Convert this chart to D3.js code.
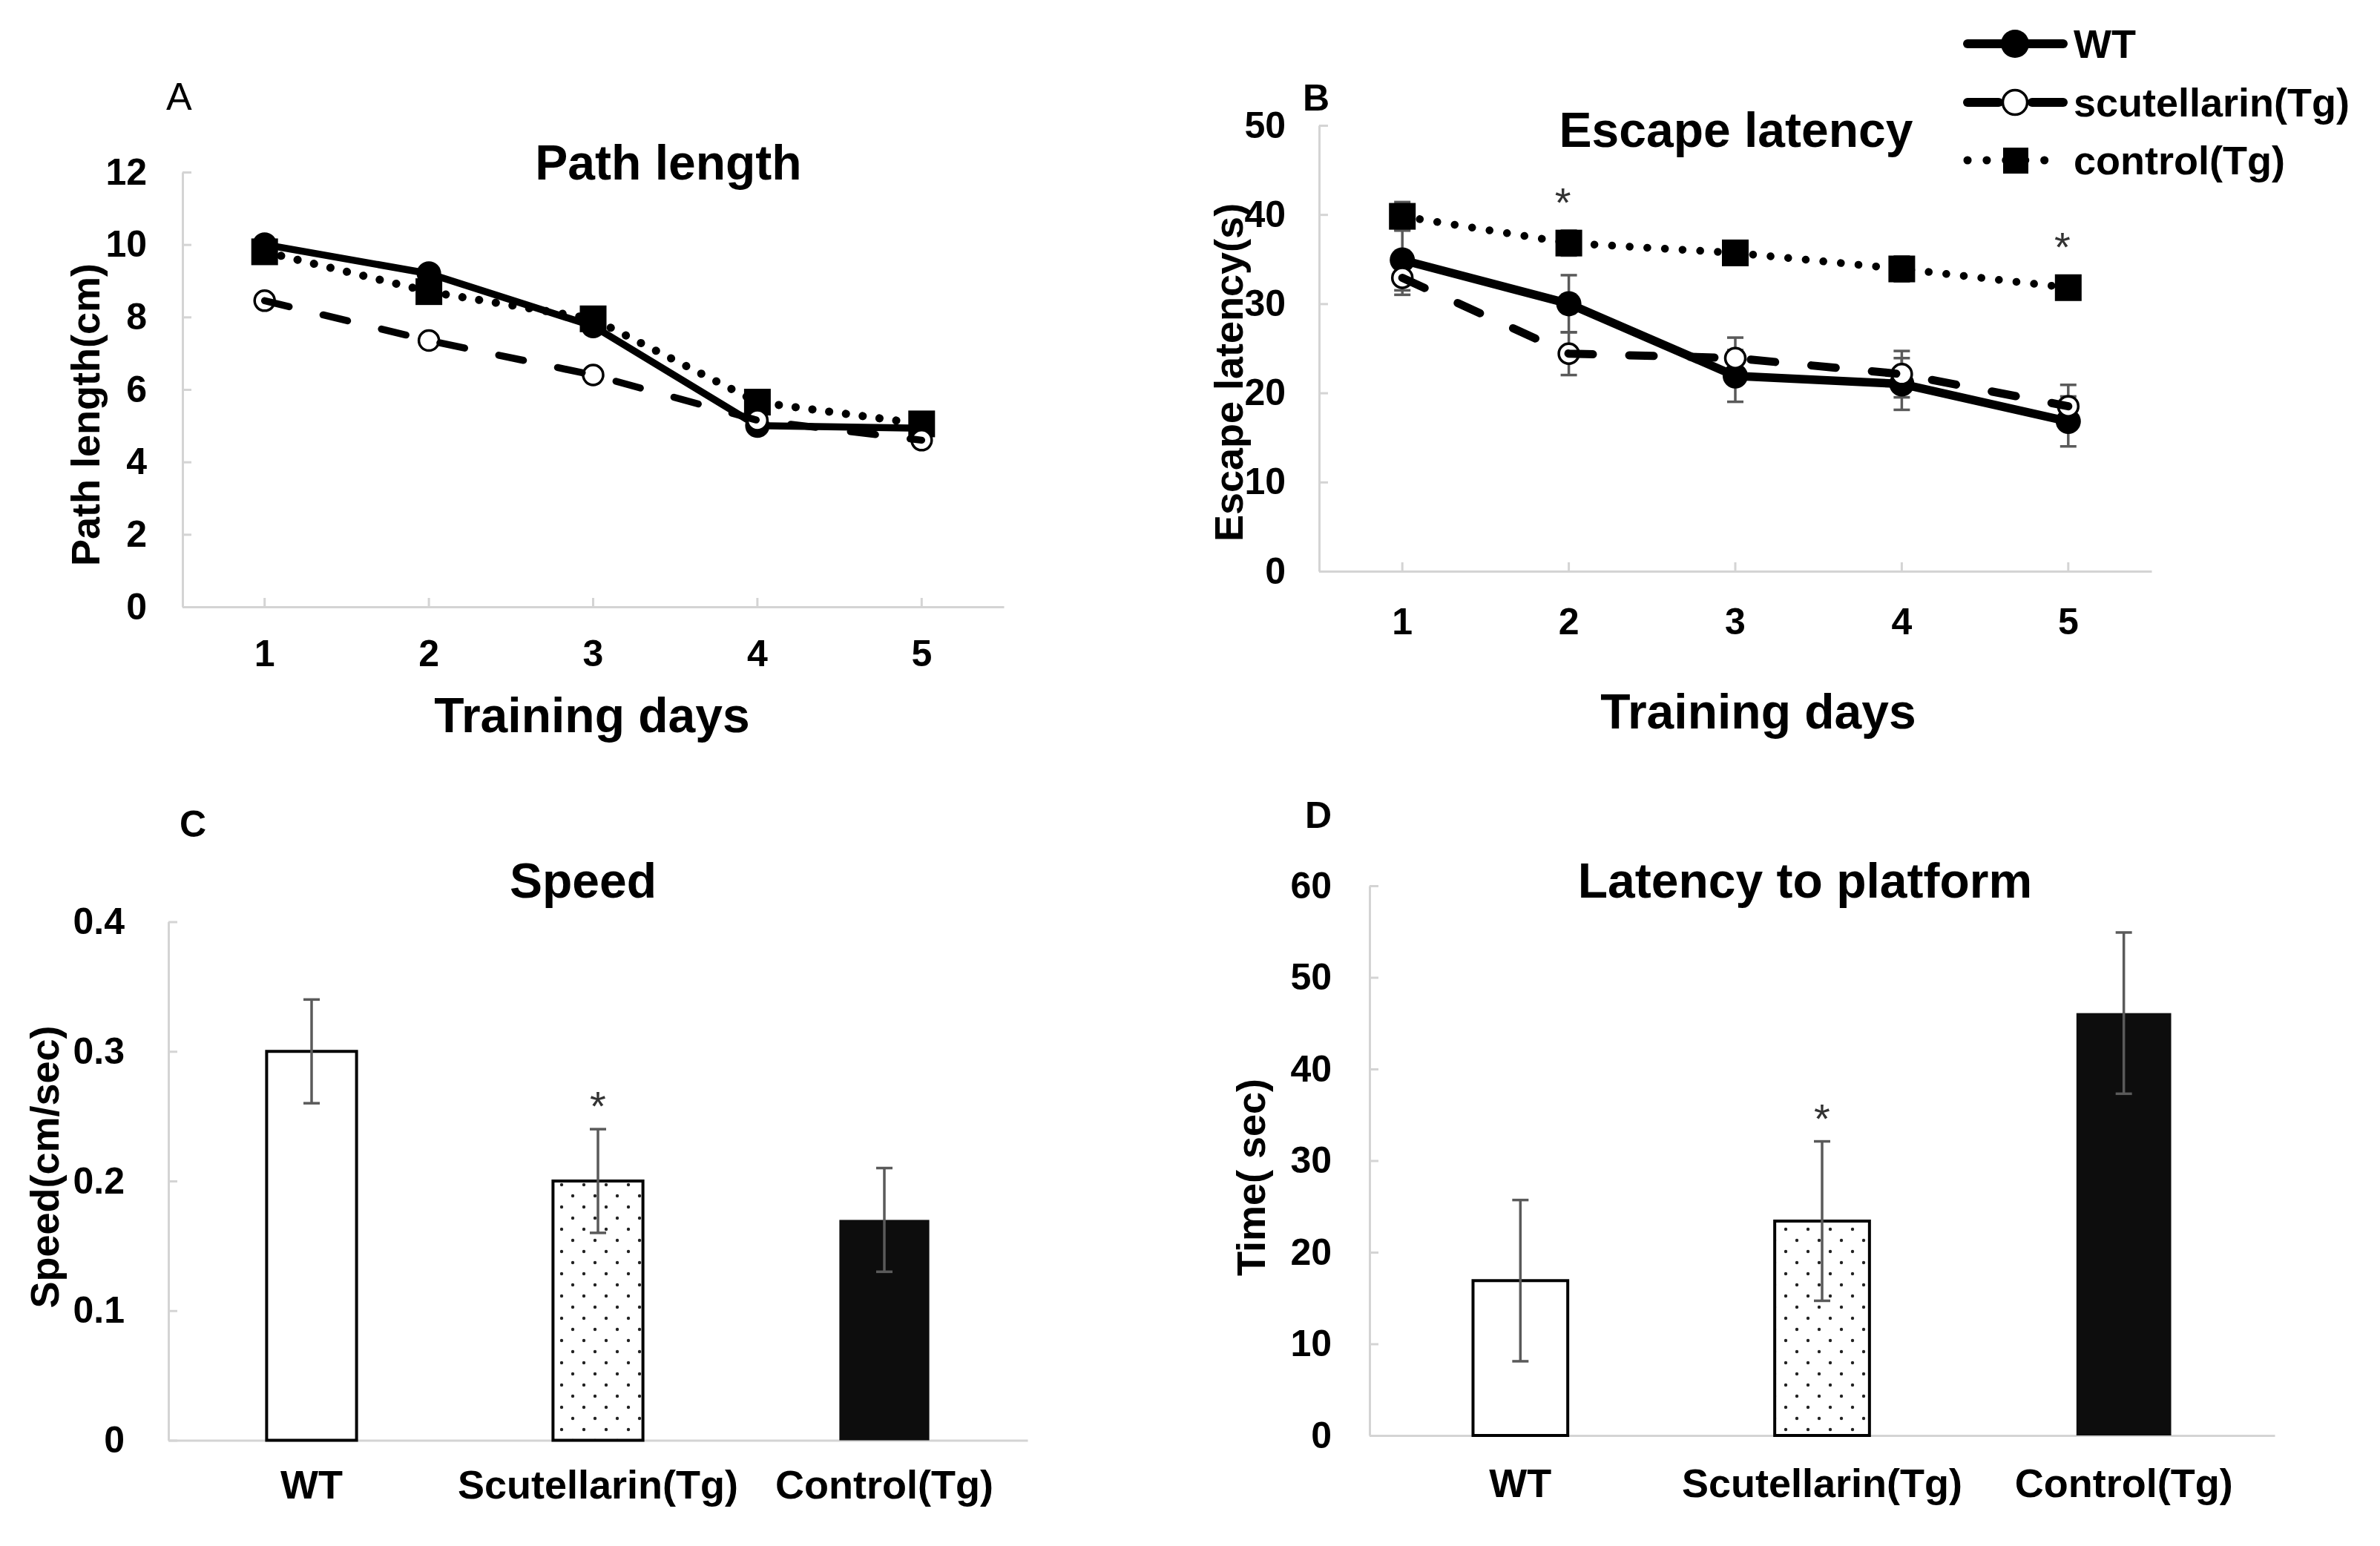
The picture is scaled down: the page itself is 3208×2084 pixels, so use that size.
<!DOCTYPE html>
<html>
<head>
<meta charset="utf-8">
<script src="https://cdn.jsdelivr.net/npm/d3@7"></script>
<style>
body{margin:0;background:#fff;}
svg text{font-family:"Liberation Sans",Arial,sans-serif;font-weight:bold;fill:#000;}
</style>
</head>
<body>
<svg id="vis" width="3208" height="2084"></svg>
<script>
// ---- data ----
// A / B: training days
const days = ["1", "2", "3", "4", "5"];
const pathWT   = [10.0, 9.2, 7.75, 5.0, 4.93];
const pathScut = [8.45, 7.35, 6.4, 5.15, 4.6];
const pathCtrl = [9.8, 8.7, 7.95, 5.65, 5.05];

const escWT      = [34.9, 30.0, 21.9, 21.0, 16.8];
const escWTErr   = [3.4, 3.2, 2.9, 2.9, 2.8];
const escScut    = [32.9, 24.4, 23.9, 22.1, 18.5];
const escScutErr = [1.9, 2.4, 2.3, 2.6, 2.4];
const escCtrl    = [39.8, 36.8, 35.7, 33.9, 31.8];
const escCtrlErr = [1.6, 1.4, 1.2, 1.4, 1.0];
const escSig     = [0, 1, 0, 0, 1];

// C / D: groups
const groups = ["WT", "Scutellarin(Tg)", "Control(Tg)"];
const speed      = [0.30, 0.20, 0.17];
const speedErr   = [0.04, 0.04, 0.04];
const latency    = [16.9, 23.4, 46.1];
const latencyErr = [8.8, 8.7, 8.8];
const barSig     = [0, 1, 0];

const legendNames = ["WT", "scutellarin(Tg)", "control(Tg)"];
const ticksA = [0, 2, 4, 6, 8, 10, 12];
const ticksB = [0, 10, 20, 30, 40, 50];
const ticksC = [0, 0.1, 0.2, 0.3, 0.4];
const ticksD = [0, 10, 20, 30, 40, 50, 60];

// ---- setup ----
const svg = d3.select("#vis");
svg.append("rect").attr("width", 3208).attr("height", 2084).attr("fill", "#fff");

const defs = svg.append("defs");
const pat = defs.append("pattern").attr("id", "dots")
    .attr("patternUnits", "userSpaceOnUse").attr("width", 30).attr("height", 30);
pat.append("rect").attr("width", 30).attr("height", 30).attr("fill", "#fff");
pat.append("circle").attr("cx", 7).attr("cy", 7).attr("r", 2.2).attr("fill", "#222");
pat.append("circle").attr("cx", 22).attr("cy", 22).attr("r", 2.2).attr("fill", "#222");

const axisGray = "#d4d4d4";
const errGray = "#5a5a5a";

function yAxis(y, x0, ticks, fmt, pad){
    const g = svg.append("g").attr("transform", "translate(" + x0 + ",0)")
        .call(d3.axisLeft(y).tickValues(ticks).tickFormat(fmt)
            .tickSizeInner(-12).tickSizeOuter(0).tickPadding(pad));
    g.select(".domain").attr("stroke", axisGray).attr("stroke-width", 3);
    g.selectAll(".tick line").attr("stroke", axisGray).attr("stroke-width", 3);
    g.selectAll(".tick text").attr("font-size", 50);
}

function xAxis(x, y0, tick, pad, fs){
    const g = svg.append("g").attr("transform", "translate(0," + y0 + ")")
        .call(d3.axisBottom(x).tickSizeInner(tick).tickSizeOuter(0).tickPadding(pad));
    g.select(".domain").attr("stroke", axisGray).attr("stroke-width", 3);
    g.selectAll(".tick line").attr("stroke", tick ? axisGray : "none").attr("stroke-width", 3);
    g.selectAll(".tick text").attr("font-size", fs);
}

function label(txt, x, y, fs, opts){
    opts = opts || {};
    const t = svg.append("text").attr("x", x).attr("y", y)
        .attr("font-size", fs).attr("text-anchor", opts.anchor || "middle").text(txt);
    if (opts.normal) t.style("font-weight", "normal");
    return t;
}

function yTitle(txt, x, y){
    svg.append("text").attr("transform", "translate(" + x + "," + y + ") rotate(-90)")
        .attr("text-anchor", "middle").attr("dy", "0.35em").attr("font-size", 54).text(txt);
}

const mid = (x, d) => x(d) + x.bandwidth() / 2;

// one line series with its markers
function lineSeries(x, y, vals, st){
    const line = d3.line().x((v, i) => mid(x, days[i])).y(v => y(v));
    const path = () => svg.append("path").datum(vals).attr("d", line)
        .attr("fill", "none").attr("stroke", "#000").attr("stroke-width", st.w)
        .attr("stroke-linecap", st.cap || "butt").attr("stroke-linejoin", "round")
        .attr("stroke-dasharray", st.dash || null);
    if (!st.lineOnTop) path();
    if (st.marker === "square") {
        svg.selectAll(null).data(vals).enter().append("rect")
            .attr("x", (v, i) => mid(x, days[i]) - st.size / 2)
            .attr("y", v => y(v) - st.size / 2)
            .attr("width", st.size).attr("height", st.size).attr("fill", "#000");
    } else {
        svg.selectAll(null).data(vals).enter().append("circle")
            .attr("cx", (v, i) => mid(x, days[i])).attr("cy", v => y(v))
            .attr("r", st.size)
            .attr("fill", st.marker === "open" ? "#fff" : "#000")
            .attr("stroke", "#000").attr("stroke-width", st.marker === "open" ? 3.5 : 0);
    }
    if (st.lineOnTop) path();
}

function errBars(xf, y, vals, errs, half){
    const g = svg.append("g").attr("stroke", errGray).attr("stroke-width", 3.5);
    vals.forEach((v, i) => {
        const cx = xf(i);
        g.append("line").attr("x1", cx).attr("x2", cx).attr("y1", y(v + errs[i])).attr("y2", y(v - errs[i]));
        [v + errs[i], v - errs[i]].forEach(e => {
            g.append("line").attr("x1", cx - half).attr("x2", cx + half).attr("y1", y(e)).attr("y2", y(e));
        });
    });
}

function stars(xs, ys){
    xs.forEach((x, i) => {
        svg.append("text").attr("x", x).attr("y", ys[i])
            .attr("text-anchor", "middle").attr("font-size", 56)
            .style("font-weight", "normal").style("fill", "#333").text("*");
    });
}

// ---- A: Path length ----
const xA = d3.scaleBand().domain(days).range([246, 1353]);
const yA = d3.scaleLinear().domain([0, 12]).range([818, 232]);
yAxis(yA, 246, ticksA, d3.format("d"), 48);
xAxis(xA, 818, -12, 44, 50);

lineSeries(xA, yA, pathCtrl, {w: 11, dash: "0.1,22.7", cap: "round", marker: "square", size: 36});
lineSeries(xA, yA, pathWT, {w: 9.5, marker: "filled", size: 16.5});
lineSeries(xA, yA, pathScut, {w: 9.5, dash: "34,47", cap: "round", marker: "open", size: 13.5, lineOnTop: true});

label("A", 224, 148, 52, {anchor: "start", normal: true});
label("Path length", 901, 242, 66);
label("Training days", 798, 987, 66);
yTitle("Path length(cm)", 115, 559);

// ---- B: Escape latency ----
const xB = d3.scaleBand().domain(days).range([1778, 2900]);
const yB = d3.scaleLinear().domain([0, 50]).range([770, 169]);
yAxis(yB, 1778, ticksB, d3.format("d"), 45);
xAxis(xB, 770, -12, 49, 50);

const dayX = i => mid(xB, days[i]);
errBars(dayX, yB, escCtrl, escCtrlErr, 11);
errBars(dayX, yB, escWT, escWTErr, 11);
errBars(dayX, yB, escScut, escScutErr, 11);
lineSeries(xB, yB, escCtrl, {w: 10.5, dash: "0.1,23.7", cap: "round", marker: "square", size: 36});
lineSeries(xB, yB, escWT, {w: 11.5, marker: "filled", size: 17});
lineSeries(xB, yB, escScut, {w: 11, dash: "33,49", cap: "round", marker: "open", size: 13.5, lineOnTop: true});

const sigDays = days.filter((d, i) => escSig[i]);
stars(sigDays.map(d => mid(xB, d) - 8), sigDays.map(d => yB(escCtrl[days.indexOf(d)]) - 36));

label("B", 1756, 149, 50, {anchor: "start"});
label("Escape latency", 2340, 198, 66);
label("Training days", 2370, 982, 66);
yTitle("Escape latency(s)", 1656, 502);

// legend
const legY = [59, 138, 216];
const lg = svg.append("g");
legendNames.forEach((name, i) => {
    const y = legY[i];
    if (i === 0) {
        lg.append("line").attr("x1", 2652).attr("x2", 2781).attr("y1", y).attr("y2", y)
            .attr("stroke", "#000").attr("stroke-width", 12).attr("stroke-linecap", "round");
        lg.append("circle").attr("cx", 2716).attr("cy", y).attr("r", 19).attr("fill", "#000");
    } else if (i === 1) {
        [[2652, 2694], [2739, 2781]].forEach(s => {
            lg.append("line").attr("x1", s[0]).attr("x2", s[1]).attr("y1", y).attr("y2", y)
                .attr("stroke", "#000").attr("stroke-width", 12).attr("stroke-linecap", "round");
        });
        lg.append("circle").attr("cx", 2716).attr("cy", y).attr("r", 16.5)
            .attr("fill", "#fff").attr("stroke", "#000").attr("stroke-width", 3.5);
    } else {
        lg.append("line").attr("x1", 2652).attr("x2", 2781).attr("y1", y).attr("y2", y)
            .attr("stroke", "#000").attr("stroke-width", 11).attr("stroke-linecap", "round")
            .attr("stroke-dasharray", "0.1,25.8");
        lg.append("rect").attr("x", 2700).attr("y", y - 17).attr("width", 34).attr("height", 35).attr("fill", "#000");
    }
    lg.append("text").attr("x", 2795).attr("y", y + 19).attr("font-size", 54).text(name);
});

// ---- bar charts ----
const barFill = ["#fff", "url(#dots)", "#0d0d0d"];
const barStroke = ["#000", "#000", "none"];

function barPanel(x, y, vals, errs){
    svg.selectAll(null).data(groups).enter().append("rect")
        .attr("x", d => x(d)).attr("width", x.bandwidth())
        .attr("y", (d, i) => y(vals[i])).attr("height", (d, i) => y(0) - y(vals[i]))
        .attr("fill", (d, i) => barFill[i]).attr("stroke", (d, i) => barStroke[i]).attr("stroke-width", 4);
    errBars(i => mid(x, groups[i]), y, vals, errs, 11);
    const sig = groups.filter((d, i) => barSig[i]);
    stars(sig.map(d => mid(x, d)),
          sig.map(d => { const i = groups.indexOf(d); return y(vals[i] + errs[i]) - 12; }));
}

// ---- C: Speed ----
const xC = d3.scaleBand().domain(groups).range([227, 1385]).paddingInner(0.686).paddingOuter(0.343);
const yC = d3.scaleLinear().domain([0, 0.4]).range([1941.5, 1242.5]);
yAxis(yC, 227, ticksC, d => d === 0 ? "0" : d3.format(".1f")(d), 59);
xAxis(xC, 1941.5, 0, 40, 54);
barPanel(xC, yC, speed, speedErr);
label("C", 242, 1128, 50, {anchor: "start"});
label("Speed", 786, 1210, 66);
yTitle("Speed(cm/sec)", 60, 1573);

// ---- D: Latency to platform ----
const xD = d3.scaleBand().domain(groups).range([1846, 3066]).paddingInner(0.686).paddingOuter(0.343);
const yD = d3.scaleLinear().domain([0, 60]).range([1935, 1194]);
yAxis(yD, 1846, ticksD, d3.format("d"), 51);
xAxis(xD, 1935, 0, 45, 54);
barPanel(xD, yD, latency, latencyErr);
label("D", 1759, 1116, 50, {anchor: "start"});
label("Latency to platform", 2433, 1210, 66);
yTitle("Time( sec)", 1686, 1587);
</script>
</body>
</html>
